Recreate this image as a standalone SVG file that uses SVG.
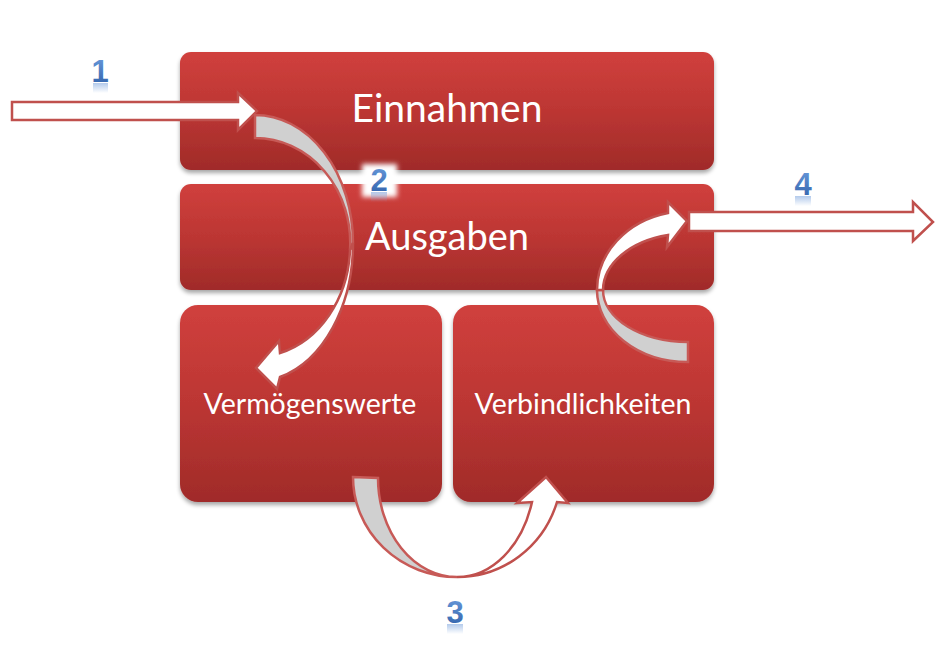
<svg xmlns="http://www.w3.org/2000/svg" width="947" height="646" viewBox="0 0 947 646">
<defs>
<linearGradient id="boxG" x1="0" y1="0" x2="0" y2="1">
<stop offset="0" stop-color="#D0403D"/>
<stop offset="0.5" stop-color="#BC3633"/>
<stop offset="1" stop-color="#A02B29"/>
</linearGradient>
<linearGradient id="numG" x1="0" y1="0" x2="0" y2="1">
<stop offset="0" stop-color="#6C9DDE"/>
<stop offset="1" stop-color="#2C5DA6"/>
</linearGradient>
<linearGradient id="reflG" x1="0" y1="0" x2="0" y2="1">
<stop offset="0" stop-color="#7FA6DE" stop-opacity="0.6"/>
<stop offset="1" stop-color="#7FA6DE" stop-opacity="0"/>
</linearGradient>
<filter id="shadow" x="-5%" y="-5%" width="110%" height="120%">
<feGaussianBlur in="SourceAlpha" stdDeviation="2"/>
<feOffset dy="3"/>
<feComponentTransfer><feFuncA type="linear" slope="0.35"/></feComponentTransfer>
<feMerge><feMergeNode/><feMergeNode in="SourceGraphic"/></feMerge>
</filter>
<filter id="glow" x="-50%" y="-50%" width="200%" height="200%">
<feGaussianBlur stdDeviation="2.5"/>
</filter>
</defs>
<style>
.box{fill:url(#boxG);filter:url(#shadow);}
.lbl{font-family:Lato,"Liberation Sans",sans-serif;fill:#ffffff;text-anchor:middle;}
.num{font-family:"Liberation Sans",Arial,sans-serif;font-weight:bold;font-size:31px;fill:url(#numG);text-anchor:middle;}
.refl{fill:url(#reflG);}
.aw{fill:#ffffff;stroke:#C0504D;stroke-width:2.5;stroke-linejoin:miter;}
.ag{fill:#D0D0D0;stroke:#C75A57;stroke-width:2.5;}
</style>
<rect width="947" height="646" fill="#ffffff"/>

<g id="einnahmen">
<rect class="box" x="180" y="52" width="534" height="118" rx="11"/>
<text class="lbl" x="447" y="122" font-size="39">Einnahmen</text>
</g>
<g id="ausgaben">
<rect class="box" x="180" y="184" width="534" height="106" rx="11"/>
<text class="lbl" x="447" y="250" font-size="38">Ausgaben</text>
</g>
<g id="vermoegenswerte">
<rect class="box" x="180" y="305" width="262" height="197" rx="18"/>
<text class="lbl" x="310" y="414" font-size="28.5">Vermögenswerte</text>
</g>
<g id="verbindlichkeiten">
<rect class="box" x="453" y="305" width="261" height="197" rx="18"/>
<text class="lbl" x="583" y="414" font-size="28.5">Verbindlichkeiten</text>
</g>

<g id="connectors">
<!-- arrow 1 -->
<path class="aw" d="M12,102 L238,102 L238,93 L257,111 L238,130 L238,120 L12,120 Z"/>
<!-- arrow 2 -->
<path class="ag" d="M255,115 A98,128 0 0 1 353,243 L350,250 A95,105 0 0 0 255,138 Z"/>
<path class="aw" d="M353,243 A98,138 0 0 1 280,377 L277,389 L256,368 L279,341 L280,353 A95,112 0 0 0 350,250 Z"/>
<!-- arrow 3 -->
<path class="ag" d="M353,477 L378,478 A79,99 0 0 0 457,577 A104,100 0 0 1 353,477 Z"/>
<path class="aw" d="M457,577 A104,107 0 0 0 557,502 L568,503 L546,477 L517,503 L532,502 A78,105 0 0 1 457,577 Z"/>
<!-- arrow 4 curved -->
<path class="ag" d="M688,342 L688,362 A91,72 0 0 1 597,290 L603,290 A85,52 0 0 0 688,342 Z"/>
<path class="aw" d="M597,290 A91,79 0 0 1 668,213 L668,202 L687,221 L667,247 L668,235 A85,57 0 0 0 603,290 Z"/>
<!-- arrow 4 straight -->
<path class="aw" d="M689,212 L913,212 L913,202 L933,222 L913,241 L913,231 L689,231 Z"/>
</g>

<g id="label1">
<rect class="refl" x="93" y="83" width="15" height="10"/>
<text class="num" x="100" y="82">1</text>
</g>
<g id="label2">
<rect x="362" y="164" width="35" height="33" fill="#ffffff" filter="url(#glow)"/>
<rect class="refl" x="371" y="192" width="16" height="10"/>
<text class="num" x="379" y="191">2</text>
</g>
<g id="label3">
<rect class="refl" x="447" y="624" width="16" height="10"/>
<text class="num" x="455" y="623">3</text>
</g>
<g id="label4">
<rect class="refl" x="795" y="196" width="16" height="10"/>
<text class="num" x="803" y="195">4</text>
</g>
</svg>
